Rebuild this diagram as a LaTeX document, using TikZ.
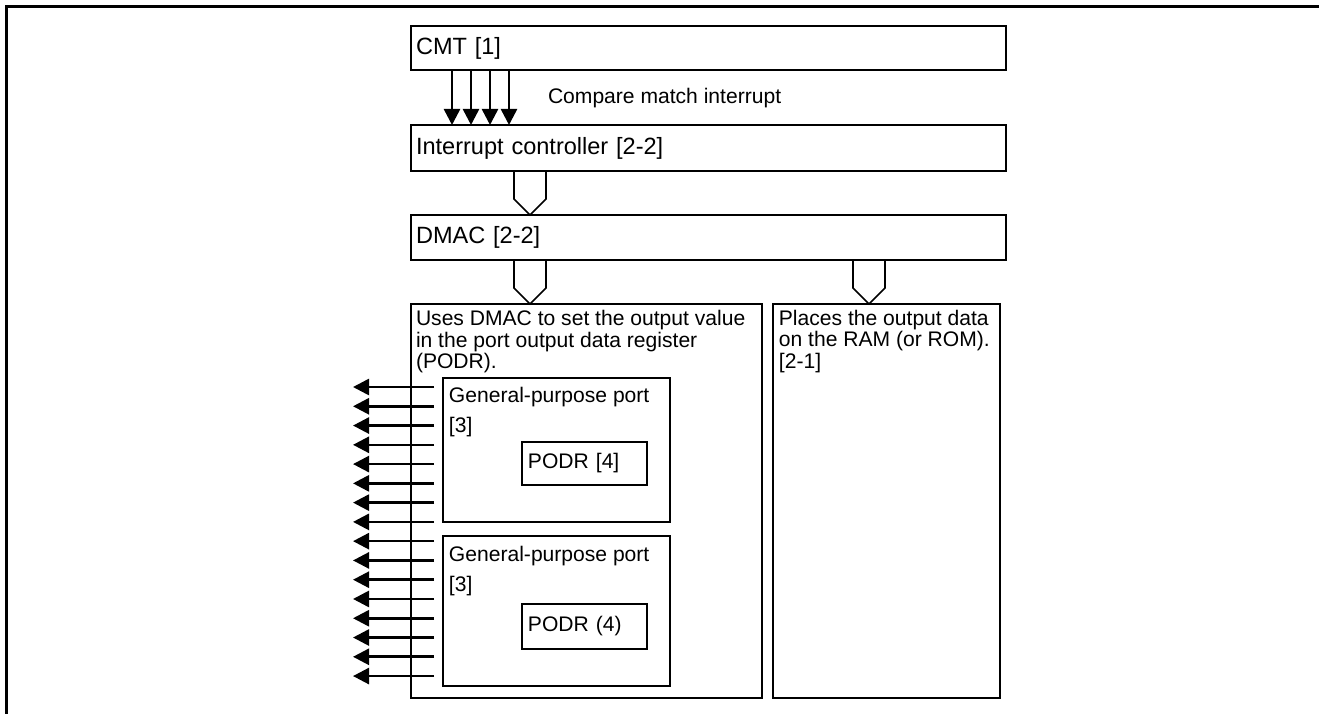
\documentclass[tikz,border=0pt]{standalone}
\usepackage{fontspec}
\setmainfont{Liberation Sans}
\usepackage{tikz}
\usetikzlibrary{arrows.meta, positioning}
\tikzset{box/.style={draw, rectangle, line width=0.9pt, outer sep=0pt, inner xsep=0.1cm, inner ysep=0pt, align=left, font=\fontsize{12}{12.2}\selectfont}}
\tikzset{bigbox/.style={box, font=\fontsize{13.4}{14}\selectfont}}
\tikzset{txt/.style={inner sep=0pt, outer sep=0pt, align=left, font=\fontsize{12}{12.2}\selectfont}}

\begin{document}
\begin{tikzpicture}[x=0.02cm, y=-0.02cm, >={Triangle[length=0.32cm, width=0.32cm]}, sig/.style={->, line width=1.5pt}, blockarr/.style={line width=0.9pt, line join=miter}]
\useasboundingbox (0,0) rectangle (1319,714);
\draw[line width=1.7pt] (1319,6.5) -- (6.5,6.5) -- (6.5,714);
\node[bigbox, anchor=north west, text width=11.7cm, minimum height=0.88cm] (cmt) at (411,26) {CMT [1]};
\node[bigbox, below=1.1cm of cmt, text width=11.7cm, minimum height=0.92cm] (intc) {Interrupt controller [2-2]};
\node[bigbox, below=0.88cm of intc, text width=11.7cm, minimum height=0.9cm] (dmac) {DMAC [2-2]};
\node[box, below=0.88cm of dmac.south west, anchor=north west, minimum width=7.02cm, minimum height=7.88cm] (uses) {};
\node[box, right=0.22cm of uses.north east, anchor=north west, minimum width=4.54cm, minimum height=7.88cm] (places) {};
\node[txt, below right=0.13cm and 0.1cm of uses.north west] (usestxt) {Uses DMAC to set the output value\\in the port output data register\\(PODR).};
\node[txt, below right=0.12cm and 0.12cm of places.north west] (placestxt) {Places the output data\\on the RAM (or ROM).\\{[2-1]}};
\node[box, below right=1.48cm and 0.64cm of uses.north west, minimum width=4.54cm, minimum height=2.88cm] (gp1) {};
\node[box, below=0.28cm of gp1, minimum width=4.54cm, minimum height=3cm] (gp2) {};
\node[txt, below right=0.19cm and 0.12cm of gp1.north west, font=\fontsize{12}{17}\selectfont] (gp1txt) {General-purpose port\\{[3]}};
\node[txt, below right=0.2cm and 0.12cm of gp2.north west, font=\fontsize{12}{17}\selectfont] (gp2txt) {General-purpose port\\{[3]}};
\node[box, below right=1.28cm and 1.58cm of gp1.north west, text width=2.26cm, inner xsep=0.12cm, minimum height=0.86cm] (podr1) {PODR [4]};
\node[box, below right=1.36cm and 1.58cm of gp2.north west, text width=2.26cm, inner xsep=0.12cm, minimum height=0.9cm] (podr2) {PODR (4)};
\node[txt, anchor=west] (cmi) at (548,98) {Compare match interrupt};
\foreach \dx in {41,60,79,98} \draw[sig] ([xshift=\dx*0.02cm]cmt.south west) -- ([xshift=\dx*0.02cm]intc.north west);
\foreach \cx/\src/\dst in {530/intc/dmac, 530/dmac/uses, 869/dmac/places}
  \draw[blockarr] (\cx-16,0 |- \src.south) -- ([yshift=0.32cm]\cx-16,0 |- \dst.north) -- (\cx,0 |- \dst.north) -- ([yshift=0.32cm]\cx+16,0 |- \dst.north) -- (\cx+16,0 |- \src.south);
\foreach \k in {0,...,15} {
  \coordinate (from\k) at (434,387+19.27*\k);
  \coordinate (to\k) at (353,387+19.27*\k);
  \draw[sig] (from\k) -- (to\k);
}
\end{tikzpicture}
\end{document}
